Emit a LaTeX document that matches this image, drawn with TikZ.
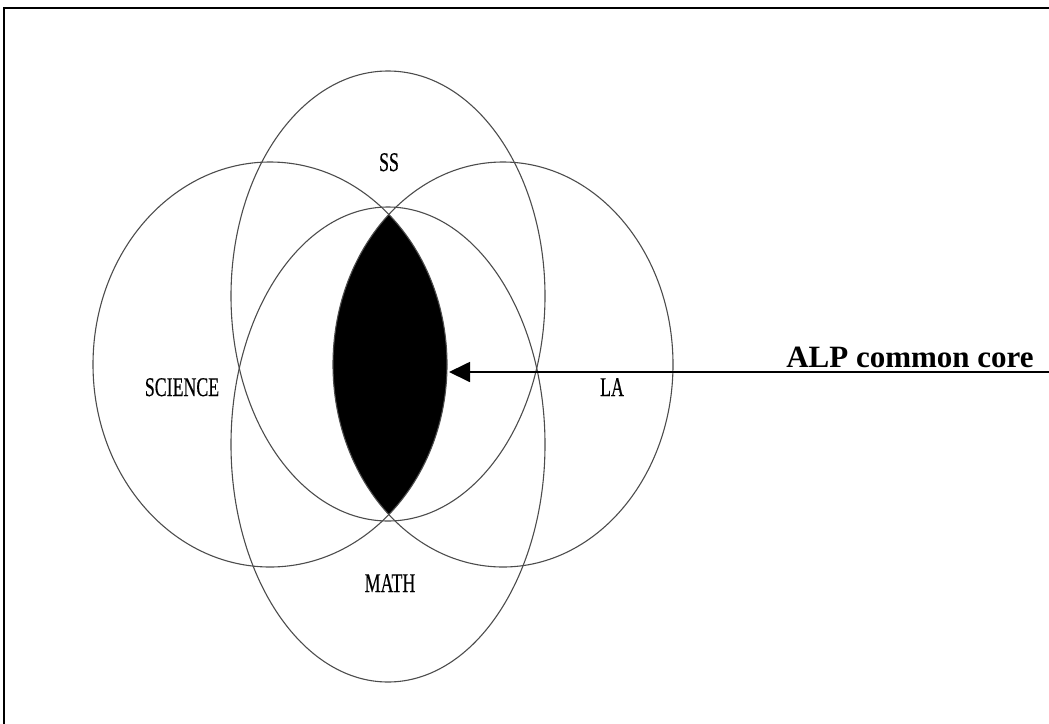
\documentclass[tikz,border=0pt]{standalone}
\usepackage{fontspec}
\setmainfont{Liberation Serif}
\newfontfamily\venlabfont[FakeBold=0.6]{Liberation Serif}
\usetikzlibrary{arrows.meta}
\begin{document}
\begin{tikzpicture}[x=1pt,y=-1pt,
  venn/.style={draw=black!70, line width=1.1pt},
  lab/.style={font=\venlabfont\fontsize{27}{30}\selectfont, inner sep=0, anchor=base},
  corelabel/.style={font=\fontsize{31}{34}\selectfont\bfseries, inner sep=0, anchor=base},
  pointer/.style={line width=1.8pt, -{Triangle[length=21pt,width=20pt]}}]
\useasboundingbox (0,0) rectangle (1049,723);
\clip (0,0) rectangle (1049,723);
\draw[line width=2pt] (4,8) rectangle (1070,740);
\coordinate (sci) at (270,364.5);
\coordinate (la) at (503,364.5);
\coordinate (ss) at (388,296);
\coordinate (math) at (388,444.5);
\begin{scope}
  \clip (sci) ellipse [x radius=177, y radius=202.5];
  \fill[black] (la) ellipse [x radius=170, y radius=202.5];
\end{scope}
\draw[venn] (sci) ellipse [x radius=177, y radius=202.5];
\draw[venn] (la) ellipse [x radius=170, y radius=202.5];
\draw[venn] (ss) ellipse [x radius=157, y radius=225];
\draw[venn] (math) ellipse [x radius=157, y radius=237.5];
\node[lab] (sslab) at (389,171) {\scalebox{0.66}[1]{SS}};
\node[lab] (scilab) at (182,396) {\scalebox{0.66}[1]{SCIENCE}};
\node[lab] (lalab) at (612,396) {\scalebox{0.66}[1]{LA}};
\node[lab] (mathlab) at (390,592) {\scalebox{0.66}[1]{MATH}};
\node[corelabel] (core) at (910,367) {ALP common core};
\coordinate (tip) at (449,372);
\coordinate (rightend) at (1060,372);
\draw[pointer] (rightend) -- (tip);
\end{tikzpicture}
\end{document}
